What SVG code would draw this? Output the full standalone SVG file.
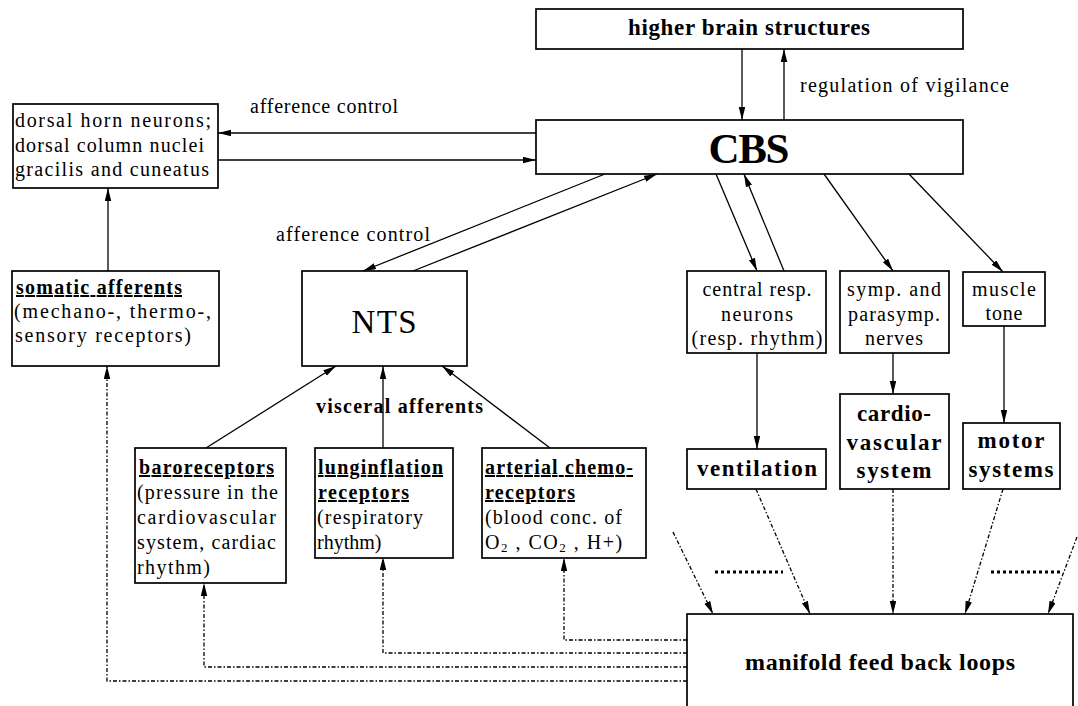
<svg xmlns="http://www.w3.org/2000/svg" width="1078" height="706" viewBox="0 0 1078 706">
<style>
.box{fill:#fff;stroke:#000;stroke-width:1.7}
.t{font-family:"Liberation Serif","Times New Roman",serif;font-size:20px;fill:#000}
.b{font-family:"Liberation Serif","Times New Roman",serif;font-size:20px;font-weight:bold;fill:#000}
.u{text-decoration:underline}
.c{text-anchor:middle}
.ln{fill:none;stroke:#000;stroke-width:1.3}
.ar{marker-end:url(#ah)}
.ds{fill:none;stroke:#000;stroke-width:1.3;stroke-dasharray:4,2,1.5,2}
.dt{fill:none;stroke:#000;stroke-width:3;stroke-dasharray:3,3}
</style>
<defs>
<marker id="ah" markerUnits="userSpaceOnUse" markerWidth="13" markerHeight="8" refX="13" refY="3.25" orient="auto">
<path d="M0,0 L13,3.25 L0,6.5 z" fill="#000"/>
</marker>
</defs>
<rect width="1078" height="706" fill="#fff"/>

<g id="connectors">
<line class="ln ar" x1="742" y1="49" x2="742" y2="120"/>
<line class="ln ar" x1="784" y1="120" x2="784" y2="49"/>
<line class="ln ar" x1="536" y1="133" x2="218" y2="133"/>
<line class="ln ar" x1="218" y1="160" x2="536" y2="160"/>
<line class="ln ar" x1="108" y1="271" x2="108" y2="188"/>
<line class="ln ar" x1="605" y1="174" x2="363" y2="271"/>
<line class="ln ar" x1="413" y1="271" x2="657" y2="174"/>
<line class="ln ar" x1="716" y1="174" x2="757" y2="271"/>
<line class="ln ar" x1="784" y1="271" x2="744" y2="174"/>
<line class="ln ar" x1="824" y1="174" x2="893" y2="271"/>
<line class="ln ar" x1="909" y1="174" x2="1003" y2="272"/>
<line class="ln ar" x1="757" y1="353" x2="757" y2="449"/>
<line class="ln ar" x1="893" y1="353" x2="893" y2="394"/>
<line class="ln ar" x1="1004" y1="326" x2="1004" y2="423"/>
<line class="ln ar" x1="206" y1="448" x2="336" y2="366"/>
<line class="ln ar" x1="383" y1="448" x2="383" y2="366"/>
<line class="ln ar" x1="550" y1="448" x2="442" y2="366"/>

<line class="ds ar" x1="756" y1="489" x2="810" y2="614"/>
<line class="ds ar" x1="893" y1="489" x2="893" y2="614"/>
<line class="ds ar" x1="1003" y1="489" x2="965" y2="614"/>
<line class="ds ar" x1="673" y1="532" x2="713" y2="614"/>
<line class="ds ar" x1="1077" y1="537" x2="1048" y2="614"/>
<polyline class="ds ar" points="687,640 564,640 564,558"/>
<polyline class="ds ar" points="687,653 383,653 383,557"/>
<polyline class="ds ar" points="687,667 204,667 204,583"/>
<polyline class="ds ar" points="687,681 107,681 107,366"/>

<line class="dt" x1="715" y1="572" x2="783" y2="572"/>
<line class="dt" x1="991" y1="572" x2="1060" y2="572"/>

<text class="t" x="800" y="92" textLength="209" lengthAdjust="spacing">regulation of vigilance</text>
<text class="t" x="250" y="113" textLength="148" lengthAdjust="spacing">afference control</text>
<text class="t" x="276" y="241" textLength="154" lengthAdjust="spacing">afference control</text>
<text class="b" x="316" y="413" textLength="167" lengthAdjust="spacing">visceral afferents</text>
</g>

<g id="higher">
<rect class="box" x="536" y="9" width="427" height="40"/>
<text class="b c" x="749" y="35" style="font-size:23px" textLength="242" lengthAdjust="spacing">higher brain structures</text>
</g>

<g id="cbs">
<rect class="box" x="536" y="120" width="427" height="54"/>
<text class="b c" x="749" y="163" style="font-size:43px" textLength="81" lengthAdjust="spacing">CBS</text>
</g>

<g id="dorsal">
<rect class="box" x="13" y="104" width="205" height="84"/>
<text class="t" x="15" y="127" textLength="196" lengthAdjust="spacing">dorsal horn neurons;</text>
<text class="t" x="15" y="152" textLength="189" lengthAdjust="spacing">dorsal column nuclei</text>
<text class="t" x="15" y="176" textLength="194" lengthAdjust="spacing">gracilis and cuneatus</text>
</g>

<g id="somatic">
<rect class="box" x="12" y="271" width="207" height="95"/>
<text class="b u" x="16" y="294" textLength="166" lengthAdjust="spacing">somatic afferents</text>
<text class="t" x="14" y="318" textLength="197" lengthAdjust="spacing">(mechano-, thermo-,</text>
<text class="t" x="15" y="342" textLength="176" lengthAdjust="spacing">sensory receptors)</text>
</g>

<g id="nts">
<rect class="box" x="302" y="271" width="165" height="95"/>
<text class="t c" x="384" y="333" style="font-size:33px" textLength="65" lengthAdjust="spacing">NTS</text>
</g>

<g id="central">
<rect class="box" x="687" y="271" width="139" height="82"/>
<text class="t c" x="757" y="296" textLength="109" lengthAdjust="spacing">central resp.</text>
<text class="t c" x="757" y="321" textLength="72" lengthAdjust="spacing">neurons</text>
<text class="t c" x="757" y="345" textLength="131" lengthAdjust="spacing">(resp. rhythm)</text>
</g>

<g id="symp">
<rect class="box" x="840" y="271" width="109" height="82"/>
<text class="t c" x="894" y="296" textLength="94" lengthAdjust="spacing">symp. and</text>
<text class="t c" x="894" y="321" textLength="92" lengthAdjust="spacing">parasymp.</text>
<text class="t c" x="894" y="345" textLength="58" lengthAdjust="spacing">nerves</text>
</g>

<g id="muscle">
<rect class="box" x="963" y="272" width="82" height="54"/>
<text class="t c" x="1004" y="296" textLength="64" lengthAdjust="spacing">muscle</text>
<text class="t c" x="1004" y="320" textLength="37" lengthAdjust="spacing">tone</text>
</g>

<g id="ventilation">
<rect class="box" x="687" y="449" width="139" height="40"/>
<text class="b c" x="757" y="476" style="font-size:23px" textLength="120" lengthAdjust="spacing">ventilation</text>
</g>

<g id="cardio">
<rect class="box" x="840" y="394" width="109" height="95"/>
<text class="b c" x="894" y="421" style="font-size:23px" textLength="74" lengthAdjust="spacing">cardio-</text>
<text class="b c" x="894" y="450" style="font-size:23px" textLength="95" lengthAdjust="spacing">vascular</text>
<text class="b c" x="894" y="478" style="font-size:23px" textLength="75" lengthAdjust="spacing">system</text>
</g>

<g id="motor">
<rect class="box" x="963" y="423" width="97" height="66"/>
<text class="b c" x="1011" y="448" style="font-size:23px" textLength="67" lengthAdjust="spacing">motor</text>
<text class="b c" x="1011" y="477" style="font-size:23px" textLength="85" lengthAdjust="spacing">systems</text>
</g>

<g id="baro">
<rect class="box" x="135" y="448" width="151" height="135"/>
<text class="b u" x="139" y="474" textLength="135" lengthAdjust="spacing">baroreceptors</text>
<text class="t" x="137" y="499" textLength="141" lengthAdjust="spacing">(pressure in the</text>
<text class="t" x="137" y="524" textLength="139" lengthAdjust="spacing">cardiovascular</text>
<text class="t" x="137" y="549" textLength="139" lengthAdjust="spacing">system, cardiac</text>
<text class="t" x="137" y="574" textLength="73" lengthAdjust="spacing">rhythm)</text>
</g>

<g id="lung">
<rect class="box" x="315" y="448" width="138" height="110"/>
<text class="b u" x="318" y="474" textLength="125" lengthAdjust="spacing">lunginflation</text>
<text class="b u" x="318" y="499" textLength="91" lengthAdjust="spacing">receptors</text>
<text class="t" x="317" y="524" textLength="106" lengthAdjust="spacing">(respiratory</text>
<text class="t" x="317" y="549">rhythm)</text>
</g>

<g id="chemo">
<rect class="box" x="482" y="448" width="164" height="110"/>
<text class="b u" x="485" y="474" textLength="148" lengthAdjust="spacing">arterial chemo-</text>
<text class="b u" x="485" y="499" textLength="90" lengthAdjust="spacing">receptors</text>
<text class="t" x="485" y="524" textLength="137" lengthAdjust="spacing">(blood conc. of</text>
<text class="t" x="485" y="549" style="letter-spacing:1.5px">O<tspan font-size="13" dy="3">2</tspan><tspan dy="-3"> , CO</tspan><tspan font-size="13" dy="3">2</tspan><tspan dy="-3"> , H+)</tspan></text>
</g>

<g id="manifold">
<rect class="box" x="687" y="614" width="386" height="110"/>
<text class="b c" x="880" y="670" style="font-size:24px" textLength="270" lengthAdjust="spacing">manifold feed back loops</text>
</g>
</svg>
